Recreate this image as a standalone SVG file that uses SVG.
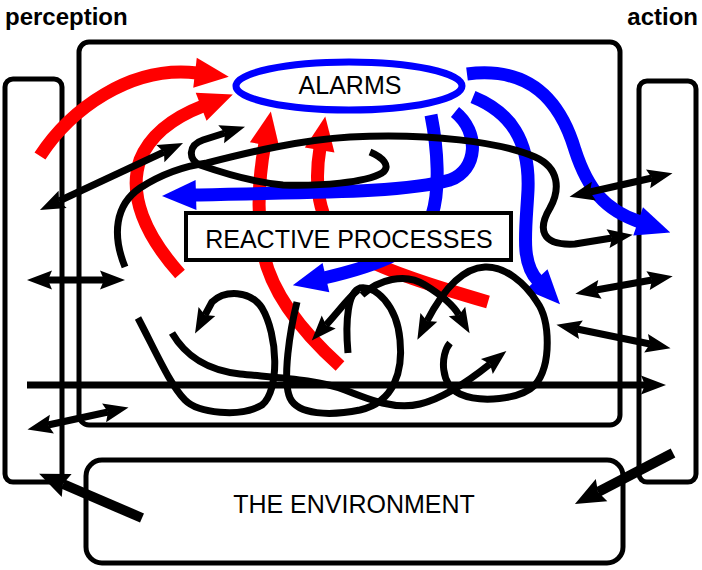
<svg xmlns="http://www.w3.org/2000/svg" width="702" height="570" viewBox="0 0 702 570">
<defs>
<style>
.frame{fill:none;stroke:#000;stroke-width:5}
.red{fill:none;stroke:#ff0000;stroke-width:13;marker-end:url(#ha-red)}
.blue{fill:none;stroke:#0000ff;stroke-width:13;marker-end:url(#ha-blue)}
.blk{fill:none;stroke:#000;stroke-width:7}
.end{marker-end:url(#ha-k)}
.both{marker-start:url(#ha-k);marker-end:url(#ha-k)}
.big{stroke-width:10;marker-end:url(#ha-kb)}
.lbl{font-family:"Liberation Sans",Arial,sans-serif;font-size:25px;fill:#000;text-anchor:middle}
.hd{font-family:"Liberation Sans",Arial,sans-serif;font-size:24px;font-weight:bold;fill:#000}
</style>
<marker id="ha-red" markerUnits="userSpaceOnUse" markerWidth="34" markerHeight="30" refX="2" refY="15" orient="auto" overflow="visible"><path d="M0,0 L34,15 L0,30 z" fill="#ff0000"/></marker>
<marker id="ha-blue" markerUnits="userSpaceOnUse" markerWidth="34" markerHeight="30" refX="2" refY="15" orient="auto" overflow="visible"><path d="M0,0 L34,15 L0,30 z" fill="#0000ff"/></marker>
<marker id="ha-k" markerUnits="userSpaceOnUse" markerWidth="25" markerHeight="19" refX="4" refY="9.5" orient="auto-start-reverse" overflow="visible"><path d="M0,0 L25,9.5 L0,19 L4,9.5 z" fill="#000"/></marker>
<marker id="ha-kb" markerUnits="userSpaceOnUse" markerWidth="30" markerHeight="25" refX="4" refY="12.5" orient="auto" overflow="visible"><path d="M0,0 L30,12.5 L0,25 L4,12.5 z" fill="#000"/></marker>
</defs>
<rect width="702" height="570" fill="#fff"/>

<g id="perception">
<rect class="frame" x="5" y="79" width="57" height="403" rx="8"/>
<text class="hd" x="5" y="25">perception</text>
</g>
<g id="action">
<rect class="frame" x="639" y="81" width="57" height="401" rx="8"/>
<text class="hd" x="698" y="25" text-anchor="end">action</text>
</g>
<g id="agent">
<rect class="frame" x="79" y="42" width="541" height="383" rx="10"/>
</g>
<g id="environment">
<rect class="frame" x="86" y="460" width="537" height="103" rx="16"/>
<text class="lbl" x="354" y="513">THE ENVIRONMENT</text>
</g>

<g id="connectors">
<g id="red-arrows">
<path class="red" d="M40,156 C70,110 130,65 197,73"/>
<path class="red" d="M180,274 C145,235 128,195 140,160 C150,135 172,118 203,106"/>
<path class="red" d="M340,366 C300,330 268,290 262,245 C256,205 260,170 265,143"/>
<path class="red" d="M488,302 C440,288 380,270 350,250 C320,228 313,190 320,148"/>
</g>
<g id="blue-arrows">
<path class="blue" d="M467,74 C530,66 560,100 575,150 C588,190 605,210 640,222"/>
<path class="blue" d="M473,97 C510,112 530,140 528,190 C526,230 520,262 538,281"/>
<path class="blue" d="M455,112 C480,132 478,170 450,180 C400,194 300,192 194,195"/>
<path class="blue" d="M431,115 C438,150 440,190 432,215 C420,250 380,265 324,278"/>
</g>
<g id="black-arrows">
<path class="blk both" d="M59,201 L164,152"/>
<path class="blk end" d="M125,267 C112,235 115,205 140,188 C160,175 185,166 207,163 C250,152 300,140 350,137 C430,133 500,142 535,157 C560,168 560,190 550,208 C538,228 540,246 575,244 L612,238"/>
<path class="blk end" d="M370,152 C382,157 392,166 382,173 C365,183 320,186 283,185 C250,182 220,172 200,165 C188,160 188,145 203,140 L225,133"/>
<path class="blk both" d="M590,192 L652,178"/>
<path class="blk both" d="M596,290 L652,280"/>
<path class="blk both" d="M577,329 L650,344"/>
<path class="blk end" d="M27,385 L645,385"/>
<path class="blk both" d="M48,280 L104,280"/>
<path class="blk both" d="M48,425 L108,412"/>
<path class="blk big" d="M142,518 L63,484"/>
<path class="blk big" d="M673,453 L598,492"/>
<path class="blk end" d="M138,318 C155,350 170,385 185,400 C198,413 240,418 262,405 C280,390 278,335 262,308 C250,290 225,290 212,302 L205,315"/>
<path class="blk end" d="M172,333 C185,355 205,370 240,374 C280,378 320,380 345,390 C370,400 395,410 420,404 C445,398 470,380 490,364"/>
<path class="blk" d="M297,302 C290,330 282,380 290,398 C298,415 330,416 360,410 C395,402 403,370 400,340 C397,305 375,285 360,288 C348,292 345,320 348,353"/>
<path class="blk end" d="M358,290 C348,298 338,312 326,325"/>
<path class="blk end" d="M362,295 C378,280 405,272 425,285 C438,293 452,303 459,315"/>
<path class="blk end" d="M450,343 C440,355 440,385 460,394 C480,403 520,400 535,385 C552,365 550,320 537,302 C525,283 505,266 485,267 C462,268 442,292 427,321"/>
</g>
</g>

<g id="alarms">
<ellipse cx="349" cy="86" rx="113" ry="24" fill="#fff" stroke="#0000ff" stroke-width="7"/>
<text class="lbl" x="350" y="94">ALARMS</text>
</g>
<g id="reactive">
<rect x="186" y="213" width="325" height="47" fill="#fff" stroke="#000" stroke-width="4"/>
<text class="lbl" x="349" y="248">REACTIVE PROCESSES</text>
</g>
</svg>
